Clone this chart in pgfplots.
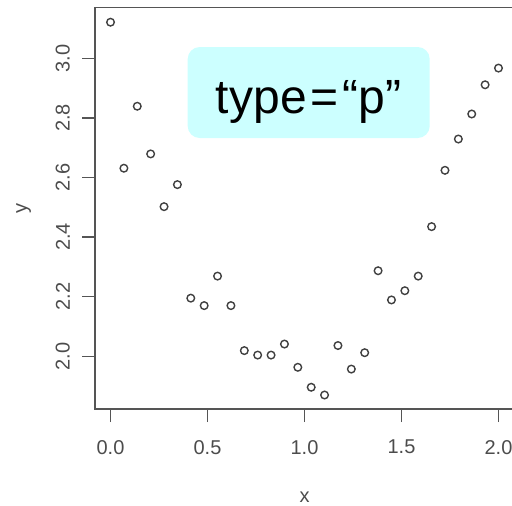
\documentclass[border=0pt]{standalone}
\usepackage{pgfplots}
\pgfplotsset{compat=1.18}
\usepackage{fontspec}
\setmainfont{Liberation Sans}
\definecolor{boxcyan}{HTML}{CCFFFF}
\definecolor{axgray}{HTML}{555555}

\begin{document}
\begin{tikzpicture}
\path[use as bounding box] (-47.5pt,-48pt) rectangle (208.5pt,204.5pt);
\clip (-47.5pt,-48pt) rectangle (208.5pt,204.5pt);
\begin{axis}[
  at={(0,0)}, anchor=south west,
  scale only axis,
  width=209.5pt, height=200.85pt,
  xmin=-0.08, xmax=2.08,
  ymin=1.823, ymax=3.171,
  xtick={0,0.5,1,1.5,2},
  ytick={2,2.2,2.4,2.6,2.8,3},
  xticklabels={0.0,0.5,1.0,1.5,2.0},
  yticklabels={2.0,2.2,2.4,2.6,2.8,3.0},
  xtick pos=bottom, ytick pos=left,
  tick align=outside,
  major tick length=6.5pt,
  axis line style={draw=axgray, line width=0.7pt},
  every tick/.style={draw=axgray, line width=0.7pt},
  tick label style={font=\fontsize{10}{12}\selectfont, text=black!70},
  x tick label style={yshift=-5.5pt},
  y tick label style={rotate=90, anchor=south, yshift=2.5pt},
  /pgf/number format/assume math mode=true,
  xlabel={x}, ylabel={y},
  label style={font=\fontsize{10}{12}\selectfont, text=black!70},
  xlabel style={yshift=-12pt},
  ylabel style={yshift=5.5pt},
  clip=false,
]
\addplot[only marks, mark=o, mark size=1.9pt, mark options={line width=0.7pt, draw=black!75}]
  coordinates {
  (0.0000,3.121) (0.0690,2.631) (0.1379,2.839) (0.2069,2.679) (0.2759,2.502)
  (0.3448,2.576) (0.4138,2.195) (0.4828,2.170) (0.5517,2.269) (0.6207,2.170)
  (0.6897,2.019) (0.7586,2.004) (0.8276,2.004) (0.8966,2.041) (0.9655,1.963)
  (1.0345,1.896) (1.1034,1.870) (1.1724,2.036) (1.2414,1.957) (1.3103,2.012)
  (1.3793,2.287) (1.4483,2.189) (1.5172,2.220) (1.5862,2.269) (1.6552,2.435)
  (1.7241,2.624) (1.7931,2.729) (1.8621,2.813) (1.9310,2.911) (2.0000,2.967)
  };
\node[fill=boxcyan, rounded corners=6pt, minimum width=121pt, minimum height=45.5pt,
  inner sep=0pt] at (axis cs:1.0216,2.885) {};
\node[inner sep=0pt, font=\fontsize{24}{29}\selectfont, yshift=-4.5pt]
  at (axis cs:1.0216,2.885) {type\kern2pt=\kern2pt“p”};
\end{axis}
\end{tikzpicture}
\end{document}
